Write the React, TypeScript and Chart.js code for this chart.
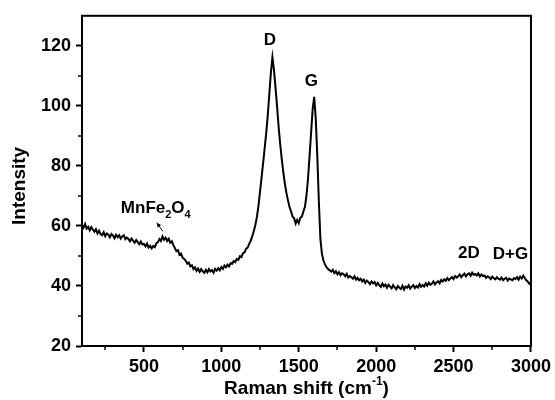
import React, { useEffect, useRef } from "react";
import { Chart, registerables } from "chart.js";

Chart.register(...registerables);

const SHIFT_START = 100;
const SHIFT_STEP = 10;
const INTENSITY = [
  60.3, 59.4, 60.6, 59.1, 59.7, 58.5, 59.6, 58.8, 58.1, 58.9,
  57.5, 58.4, 57.3, 56.9, 57.9, 56.6, 57.5, 57.1, 56.2, 57.3,
  56.8, 55.9, 57.0, 56.2, 56.9, 55.8, 56.5, 56.9, 55.6, 56.1,
  55.7, 54.9, 55.8, 55.1, 54.4, 55.3, 54.6, 53.9, 54.8, 53.8,
  54.0, 53.2, 54.1, 52.8, 53.4, 52.5, 53.3, 52.9, 54.2, 54.6,
  55.6, 55.0, 56.5, 55.4, 56.1, 55.0, 55.7, 54.4, 54.9, 53.6,
  52.6, 51.6, 51.9, 50.4, 50.8, 49.4, 49.0, 48.4, 47.4, 47.8,
  46.5, 46.9, 45.6, 46.2, 45.0, 45.8, 44.7, 45.6, 44.9, 44.4,
  45.4, 44.5, 45.6, 44.8, 45.3, 44.4, 45.7, 45.1, 45.9, 45.2,
  46.3, 45.7, 46.8, 46.2, 47.1, 46.5, 47.6, 47.4, 48.3, 47.9,
  49.0, 48.7, 49.9, 49.6, 50.9, 51.2, 52.4, 52.8, 54.0, 55.1,
  56.6, 58.3, 60.4, 63.0, 66.8, 71.5, 76.2, 81.0, 86.0, 91.0,
  97.0, 104.0, 111.0, 116.2, 112.0, 106.0, 99.8, 93.0, 87.3, 82.4,
  78.0, 74.2, 71.1, 68.6, 66.4, 64.9, 63.1, 62.6, 60.8, 62.0,
  60.9, 62.7, 63.1, 64.8, 66.4, 70.2, 75.8, 83.4, 91.2, 99.0,
  103.0, 95.5, 83.0, 68.0, 55.5, 50.6, 48.4, 47.1, 46.2, 45.6,
  45.2, 44.8, 45.4, 44.3, 44.9, 43.9, 44.6, 43.6, 44.2, 43.9,
  43.2, 44.0, 42.8, 43.3, 42.9, 42.4, 43.2, 42.1, 42.7, 41.9,
  42.4, 41.5, 42.1, 41.0, 41.8, 41.3, 40.6, 41.5, 40.9, 41.3,
  40.2, 41.0, 40.3, 39.7, 40.8, 39.9, 40.5, 39.4, 40.4, 39.8,
  39.2, 40.3, 39.5, 38.9, 40.0, 39.4, 39.0, 40.1, 38.8, 39.8,
  39.4, 40.2, 39.1, 39.8, 40.3, 39.3, 40.0, 39.5, 40.6, 39.7,
  40.3, 39.8, 40.9, 40.1, 41.1, 40.4, 40.8, 41.5, 40.5, 41.2,
  41.6, 40.9, 42.0, 41.5, 42.2, 41.7, 42.6, 41.9, 42.5, 43.0,
  42.3, 43.3, 42.8, 43.2, 43.8, 42.9, 43.6, 44.1, 43.2, 43.9,
  44.2, 43.4, 44.4, 43.7, 44.0, 43.5, 44.2, 43.2, 43.8, 43.3,
  43.5, 42.7, 43.2, 42.9, 42.3, 43.1, 42.6, 42.2, 42.9, 42.4,
  42.1, 42.8, 41.9, 42.4, 42.7, 41.8, 42.5, 42.2, 41.9, 42.6,
  42.3, 42.9, 42.1, 43.1, 42.5, 43.4, 42.6, 41.9, 41.4, 40.7,
  41.1,
];

const X_MIN = 100;
const X_MAX = 3000;
const Y_MIN = 20;
const Y_MAX = 130;
const X_TICKS = [500, 1000, 1500, 2000, 2500, 3000];
const X_MINOR = [250, 750, 1250, 1750, 2250, 2750];
const Y_TICKS = [20, 40, 60, 80, 100, 120];
const Y_MINOR = [30, 50, 70, 90, 110];

// Peak labels (text, anchored in data coordinates)
const LABEL_TEXT = ["D", "G", "2D", "D+G"];
const LABEL_X = [1313, 1582, 2599, 2753];
const LABEL_Y = [122, 108.2, 50.8, 50.4];
const LABEL_ALIGN = ["center", "center", "center", "left"];

const MN_LABEL_X = 351;
const MN_LABEL_Y = 65.8;
const ARROW_FROM = [622, 58.2];
const ARROW_TO = [583, 61.1];

const FONT = '"Liberation Sans", Arial, Helvetica, sans-serif';

type Part = { t: string; mode?: "sub" | "sup" };

function drawRich(
  ctx: CanvasRenderingContext2D,
  parts: Part[],
  x: number,
  y: number,
  size: number,
  align: "left" | "center"
) {
  const mainFont = `bold ${size}px ${FONT}`;
  const smallFont = `bold ${Math.round(size * 0.65)}px ${FONT}`;
  let total = 0;
  const widths = parts.map((p) => {
    ctx.font = p.mode ? smallFont : mainFont;
    const w = ctx.measureText(p.t).width;
    total += w;
    return w;
  });
  let cx = align === "center" ? x - total / 2 : x;
  ctx.textAlign = "left";
  ctx.textBaseline = "middle";
  parts.forEach((p, i) => {
    ctx.font = p.mode ? smallFont : mainFont;
    let dy = 0;
    if (p.mode === "sub") dy = size * 0.38;
    if (p.mode === "sup") dy = -size * 0.38;
    ctx.fillText(p.t, cx, y + dy);
    cx += widths[i];
  });
}

const decorPlugin = {
  id: "decor",
  afterDraw(chart: any) {
    const { ctx, chartArea: a } = chart;
    const xs = chart.scales.x;
    const ys = chart.scales.y;
    ctx.save();
    ctx.fillStyle = "#000";
    ctx.strokeStyle = "#000";

    // frame
    ctx.lineWidth = 2;
    ctx.strokeRect(a.left, a.top, a.right - a.left, a.bottom - a.top);

    // minor ticks
    ctx.lineWidth = 1.5;
    ctx.beginPath();
    X_MINOR.forEach((v) => {
      const px = Math.round(xs.getPixelForValue(v));
      ctx.moveTo(px, a.bottom);
      ctx.lineTo(px, a.bottom + 4);
    });
    Y_MINOR.forEach((v) => {
      const py = Math.round(ys.getPixelForValue(v));
      ctx.moveTo(a.left, py);
      ctx.lineTo(a.left - 4, py);
    });
    ctx.stroke();

    // peak labels
    LABEL_TEXT.forEach((t, i) => {
      drawRich(
        ctx,
        [{ t }],
        xs.getPixelForValue(LABEL_X[i]),
        ys.getPixelForValue(LABEL_Y[i]),
        17,
        LABEL_ALIGN[i] as any
      );
    });
    drawRich(
      ctx,
      [{ t: "MnFe" }, { t: "2", mode: "sub" }, { t: "O" }, { t: "4", mode: "sub" }],
      xs.getPixelForValue(MN_LABEL_X),
      ys.getPixelForValue(MN_LABEL_Y),
      17,
      "left"
    );

    // arrow
    const x0 = xs.getPixelForValue(ARROW_FROM[0]);
    const y0 = ys.getPixelForValue(ARROW_FROM[1]);
    const x1 = xs.getPixelForValue(ARROW_TO[0]);
    const y1 = ys.getPixelForValue(ARROW_TO[1]);
    ctx.lineWidth = 1;
    ctx.beginPath();
    ctx.moveTo(x0, y0);
    ctx.lineTo(x1, y1);
    ctx.stroke();
    const ang = Math.atan2(y1 - y0, x1 - x0);
    ctx.beginPath();
    ctx.moveTo(x1, y1);
    ctx.lineTo(x1 - 5 * Math.cos(ang - 0.45), y1 - 5 * Math.sin(ang - 0.45));
    ctx.lineTo(x1 - 5 * Math.cos(ang + 0.45), y1 - 5 * Math.sin(ang + 0.45));
    ctx.closePath();
    ctx.fill();

    // axis titles
    drawRich(
      ctx,
      [{ t: "Raman shift (cm" }, { t: "-1", mode: "sup" }, { t: ")" }],
      (a.left + a.right) / 2,
      389,
      19,
      "center"
    );
    ctx.save();
    ctx.translate(20, (a.top + a.bottom) / 2 + 5);
    ctx.rotate(-Math.PI / 2);
    drawRich(ctx, [{ t: "Intensity" }], 0, 0, 19, "center");
    ctx.restore();

    ctx.restore();
  },
};

export default function App() {
  const canvasRef = useRef<HTMLCanvasElement | null>(null);

  useEffect(() => {
    if (!canvasRef.current) return;
    const points = INTENSITY.map((v, i) => ({ x: SHIFT_START + i * SHIFT_STEP, y: v }));
    const tickFont = { family: FONT, size: 18, weight: "bold" as const };
    const chart = new Chart(canvasRef.current, {
      type: "line",
      data: {
        datasets: [
          {
            data: points,
            borderColor: "#000",
            borderWidth: 2,
            pointRadius: 0,
            tension: 0,
            fill: false,
          },
        ],
      },
      options: {
        responsive: false,
        animation: false,
        events: [],
        layout: { padding: { left: 0, right: 21, top: 12, bottom: 0 } },
        plugins: { legend: { display: false }, tooltip: { enabled: false } },
        scales: {
          x: {
            type: "linear",
            min: X_MIN,
            max: X_MAX,
            afterBuildTicks: (s: any) => {
              s.ticks = X_TICKS.map((v) => ({ value: v }));
            },
            afterFit: (s: any) => {
              s.height = 54;
            },
            grid: {
              display: true,
              drawOnChartArea: false,
              drawTicks: true,
              tickLength: 6,
              tickWidth: 2,
              tickColor: "#000",
            },
            border: { display: true, color: "#000", width: 2 },
            ticks: {
              color: "#000",
              font: tickFont,
              padding: 4,
              maxRotation: 0,
              autoSkip: false,
              callback: (v: any) => String(v),
            },
          },
          y: {
            type: "linear",
            min: Y_MIN,
            max: Y_MAX,
            afterBuildTicks: (s: any) => {
              s.ticks = Y_TICKS.map((v) => ({ value: v }));
            },
            afterFit: (s: any) => {
              s.width = 82;
            },
            grid: {
              display: true,
              drawOnChartArea: false,
              drawTicks: true,
              tickLength: 6,
              tickWidth: 2,
              tickColor: "#000",
            },
            border: { display: true, color: "#000", width: 2 },
            ticks: {
              color: "#000",
              font: tickFont,
              padding: 5,
              autoSkip: false,
              callback: (v: any) => String(v),
            },
          },
        },
      },
      plugins: [decorPlugin],
    });
    return () => chart.destroy();
  }, []);

  return (
    <div
      style={{
        position: "fixed",
        left: 0,
        top: 0,
        width: 555,
        height: 400,
        background: "#fff",
      }}
    >
      <canvas ref={canvasRef} width={555} height={400} />
    </div>
  );
}
